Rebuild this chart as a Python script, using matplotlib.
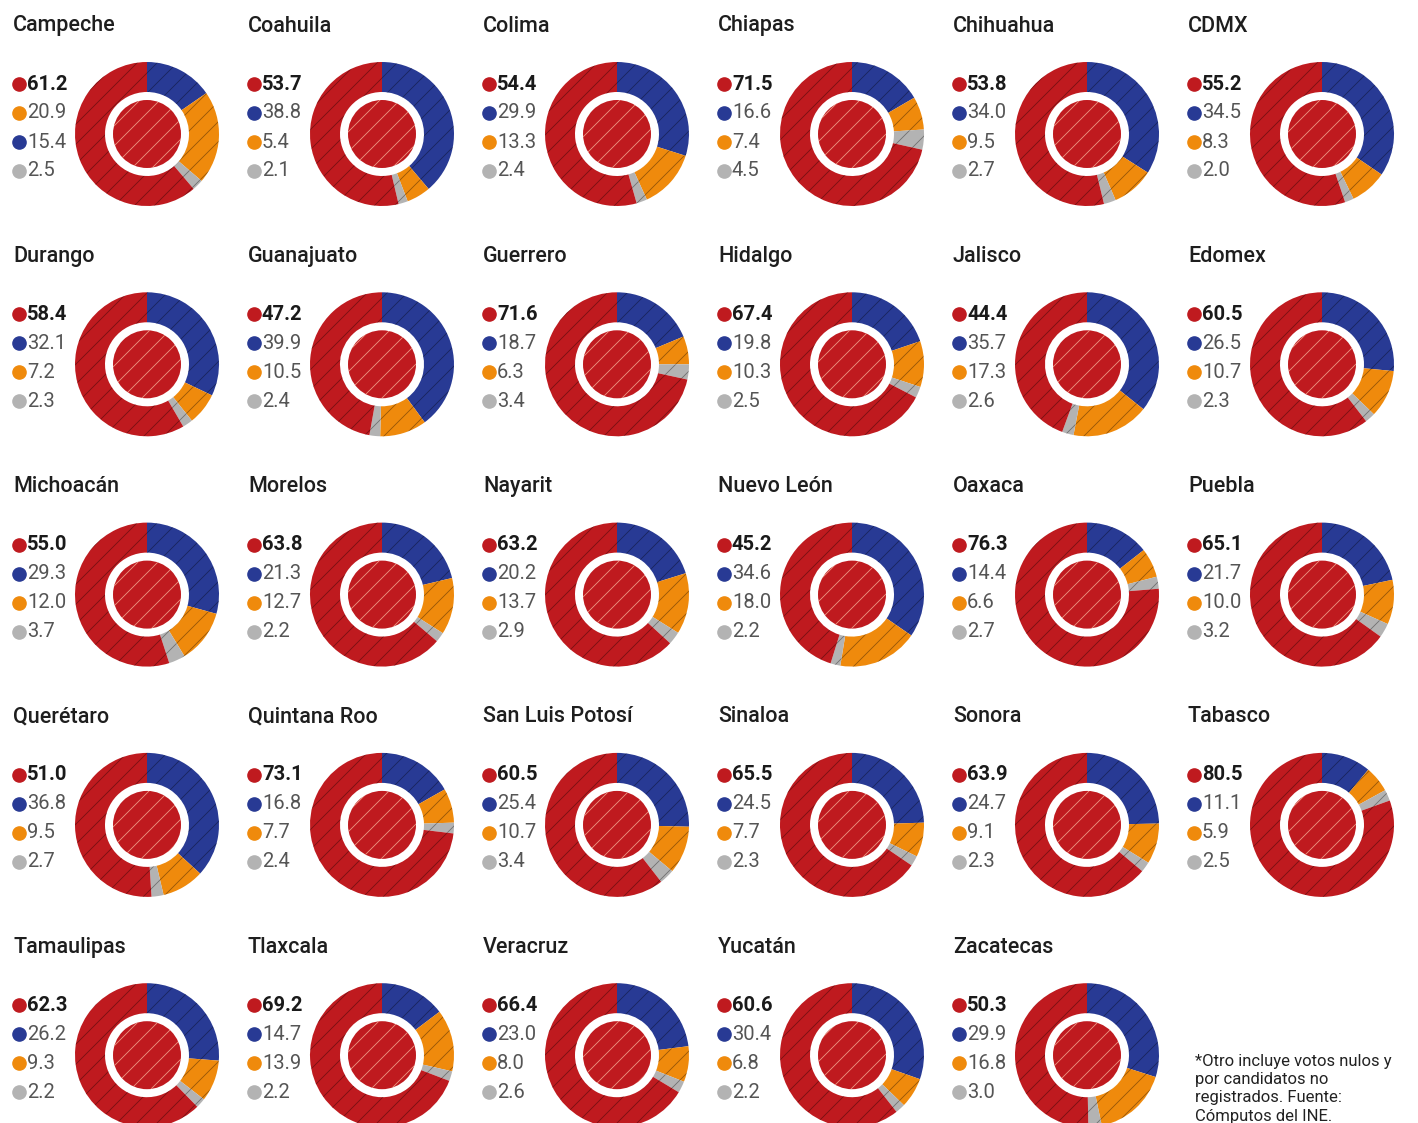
import matplotlib
matplotlib.use("Agg")
import matplotlib.pyplot as plt
from matplotlib.patches import Circle
from matplotlib.backend_bases import GraphicsContextBase

plt.rcParams['hatch.linewidth'] = 0.6

_orig_hatch_path = GraphicsContextBase.get_hatch_path
def _hatch_path(self, density=5.0):
    return _orig_hatch_path(self, density)
GraphicsContextBase.get_hatch_path = _hatch_path

states = ["Campeche", "Coahuila", "Colima", "Chiapas", "Chihuahua", "CDMX",
          "Durango", "Guanajuato", "Guerrero", "Hidalgo", "Jalisco", "Edomex",
          "Michoacán", "Morelos", "Nayarit", "Nuevo León", "Oaxaca", "Puebla",
          "Querétaro", "Quintana Roo", "San Luis Potosí", "Sinaloa", "Sonora", "Tabasco",
          "Tamaulipas", "Tlaxcala", "Veracruz", "Yucatán", "Zacatecas"]
red = [61.2, 53.7, 54.4, 71.5, 53.8, 55.2,
       58.4, 47.2, 71.6, 67.4, 44.4, 60.5,
       55.0, 63.8, 63.2, 45.2, 76.3, 65.1,
       51.0, 73.1, 60.5, 65.5, 63.9, 80.5,
       62.3, 69.2, 66.4, 60.6, 50.3]
blue = [15.4, 38.8, 29.9, 16.6, 34.0, 34.5,
        32.1, 39.9, 18.7, 19.8, 35.7, 26.5,
        29.3, 21.3, 20.2, 34.6, 14.4, 21.7,
        36.8, 16.8, 25.4, 24.5, 24.7, 11.1,
        26.2, 14.7, 23.0, 30.4, 29.9]
orange = [20.9, 5.4, 13.3, 7.4, 9.5, 8.3,
          7.2, 10.5, 6.3, 10.3, 17.3, 10.7,
          12.0, 12.7, 13.7, 18.0, 6.6, 10.0,
          9.5, 7.7, 10.7, 7.7, 9.1, 5.9,
          9.3, 13.9, 8.0, 6.8, 16.8]
gray = [2.5, 2.1, 2.4, 4.5, 2.7, 2.0,
        2.3, 2.4, 3.4, 2.5, 2.6, 2.3,
        3.7, 2.2, 2.9, 2.2, 2.7, 3.2,
        2.7, 2.4, 3.4, 2.3, 2.3, 2.5,
        2.2, 2.2, 2.6, 2.2, 3.0]
footnote = "*Otro incluye votos nulos y\npor candidatos no\nregistrados. Fuente:\nCómputos del INE."

C_RED = "#bf1a1f"
C_BLUE = "#283a94"
C_ORANGE = "#ef8a0c"
C_GRAY = "#b3b3b3"

W, H = 1418, 1123
fig = plt.figure(figsize=(W / 100, H / 100), dpi=100)
fig.patch.set_facecolor("white")

FONT = "Roboto"
R = 72.0
col_dx = 235.0
row_dy = 230.3

for i, name in enumerate(states):
    r, c = divmod(i, 6)
    x0 = 13 + c * col_dx
    ty = 26 + r * row_dy
    cx = 147 + c * col_dx
    cy = ty + 108

    fig.text(x0 / W, 1 - ty / H, name, fontsize=15.5, fontweight="medium",
             family=FONT, color="#1e1e1e", va="center", ha="left")

    entries = [(red[i], C_RED, True), (blue[i], C_BLUE, False),
               (orange[i], C_ORANGE, False), (gray[i], C_GRAY, False)]
    others = sorted(entries[1:], key=lambda e: -e[0])
    ordered = [entries[0]] + others
    for k, (v, col, bold) in enumerate(ordered):
        ly = ty + 58 + k * 29
        fig.add_artist(plt.Line2D([(x0 + 6) / W], [1 - ly / H], marker="o",
                                  markersize=9.5, color=col, linestyle="none",
                                  transform=fig.transFigure))
        fig.text((x0 + 14) / W, 1 - ly / H, f"{v:.1f}", fontsize=14.5,
                 family=FONT, fontweight="bold" if bold else "normal",
                 color="#1a1a1a" if bold else "#555555", va="center", ha="left")

    ax = fig.add_axes([(cx - R) / W, 1 - (cy + R) / H, 2 * R / W, 2 * R / H])
    ax.axis("off")
    ax.pie([blue[i], orange[i], gray[i], red[i]],
           colors=[C_BLUE, C_ORANGE, C_GRAY, C_RED],
           startangle=90, counterclock=False, radius=1.0,
           wedgeprops=dict(width=30 / R, linewidth=0,
                           edgecolor=(0, 0, 0, 0.38), hatch="//"))
    ax.add_patch(Circle((0, 0), 34 / R, facecolor=C_RED,
                        edgecolor=(1, 0.8, 0.68, 0.7), linewidth=0, hatch="//"))
    ax.set_xlim(-1, 1)
    ax.set_ylim(-1, 1)
    ax.set_aspect("equal")

fig.text(1195 / W, 1 - 1054 / H, footnote, fontsize=12, family=FONT,
         color="#222222", va="top", ha="left", linespacing=1.27)

fig.savefig("out.png", dpi=100, facecolor="white")
